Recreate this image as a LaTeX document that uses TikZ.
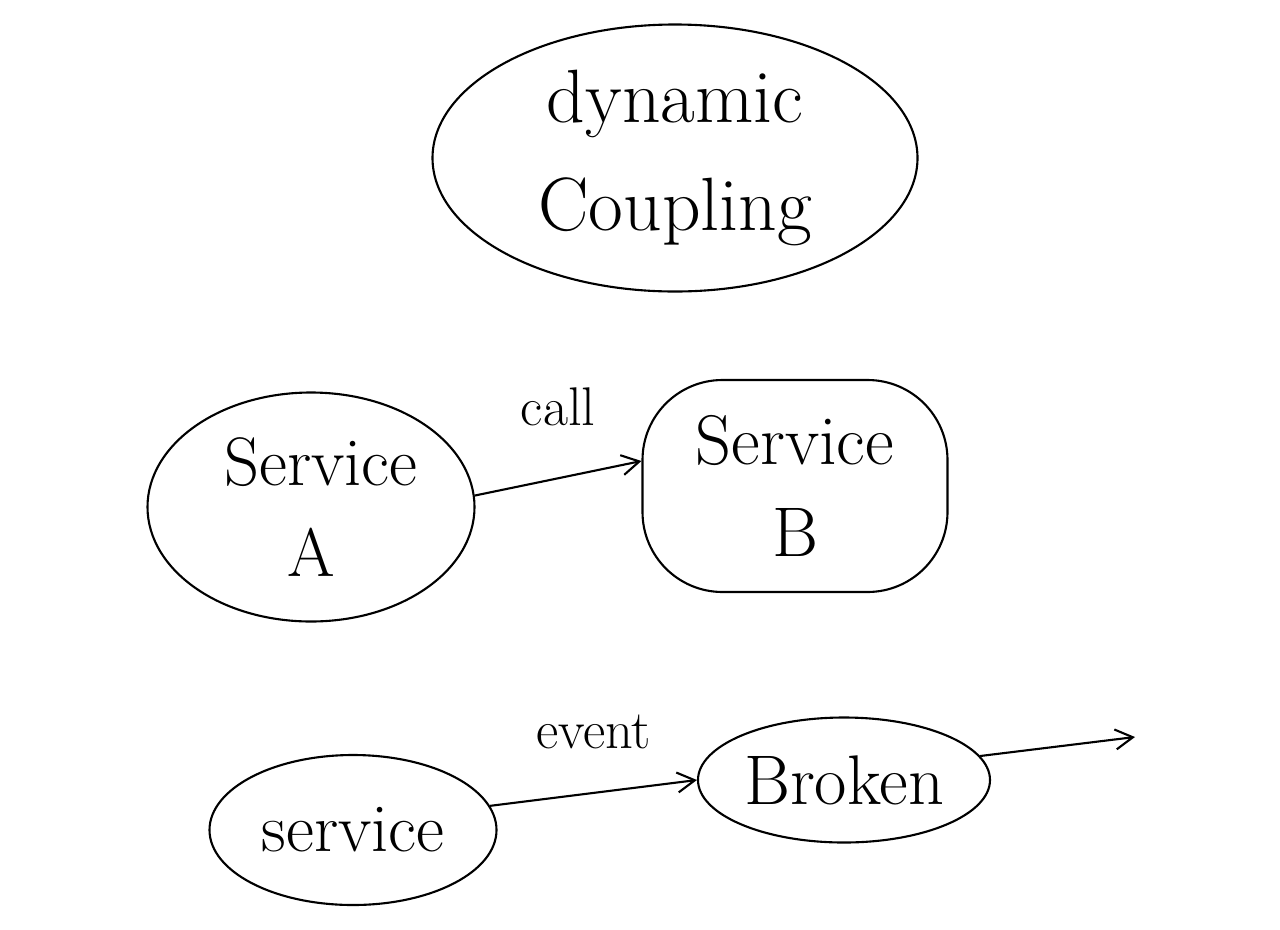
\documentclass[tikz,border=0pt]{standalone}
\usepackage{tikz}
\usetikzlibrary{arrows.meta,positioning,shapes.geometric}

\begin{document}
\begin{tikzpicture}[
      blob/.style={draw, ellipse, line width=1.2pt, align=center, inner sep=0pt},
      rblob/.style={draw, rounded corners=1.6cm, line width=1.2pt, align=center, inner sep=0pt},
      lbl/.style={font=\fontsize{31}{34}\selectfont},
      arr/.style={-{Straight Barb[length=3.5mm, width=4mm]}, line width=1.2pt}]
    \useasboundingbox (0,0) rectangle (25.6,-18.58);
    \node[blob, minimum width=9.7cm, minimum height=5.34cm,
          font=\fontsize{43}{62}\selectfont] (dyn) at (13.5,-3.16)
      {dynamic\\Coupling};
    \node[blob, minimum width=6.54cm, minimum height=4.58cm,
          font=\fontsize{39}{52}\selectfont] (srvA) at (6.22,-10.14)
      {\hspace*{0.4cm}Service\\A};
    \node[rblob, minimum width=6.1cm, minimum height=4.24cm,
          font=\fontsize{40}{52}\selectfont] (srvB) at (15.9,-9.72)
      {Service\\B};
    \draw[arr] (srvA.4) -- node[lbl, midway, above=0.9cm] (call) {call}
      ([yshift=0.5cm]srvB.west);
    % event flow
    \node[blob, minimum width=5.74cm, minimum height=3cm,
          font=\fontsize{39}{44}\selectfont] (srv) at (7.06,-16.6) {service};
    \node[blob, minimum width=5.84cm, minimum height=2.5cm,
          font=\fontsize{40}{44}\selectfont] (broker) at (16.88,-15.6) {Broken};
    \coordinate (out) at (22.7,-14.74);
    \draw[arr] (srv.10) -- node[lbl, midway, above=0.75cm] (event) {event} (broker.west);
    \draw[arr] (broker.10) -- (out);
  \end{tikzpicture}
\end{document}
